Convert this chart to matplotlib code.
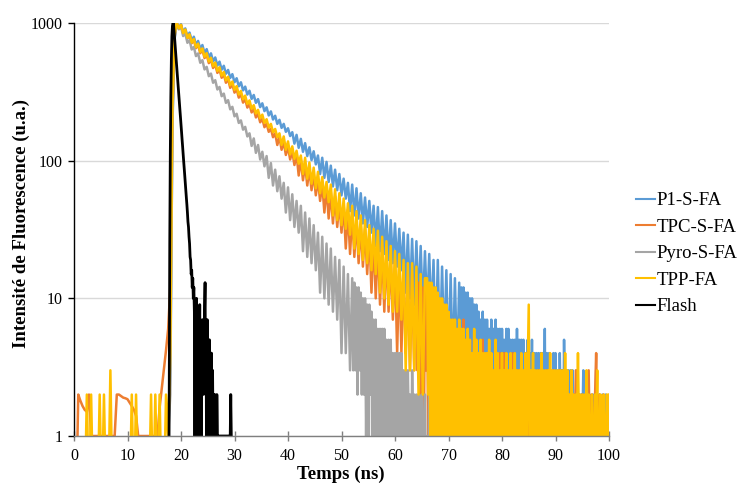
import numpy as np
import matplotlib
matplotlib.use("Agg")
import matplotlib.pyplot as plt
from matplotlib.lines import Line2D

plt.rcParams['font.family'] = ['Liberation Serif', 'DejaVu Serif']

# ---------------- data ----------------
series_names = ["P1-S-FA", "TPC-S-FA", "Pyro-S-FA", "TPP-FA", "Flash"]
series_colors = ["#5B9BD5", "#ED7D31", "#A5A5A5", "#FFC000", "#000000"]

head_step = 0.4   # ns between channels of the head part (starts at 0 ns)
tail_step = 0.2   # ns between channels of the low-count tail

# ---- P1-S-FA ----
p1_base = [0] * 44 + [1]
p1_decay = [3, 180, 760,
    1000, 918, 980, 856, 914, 798, 852, 745, 795, 694,
    741, 648, 692, 604, 646, 564, 602, 526, 562, 491,
    524, 458, 489, 428, 456, 399, 425, 371, 397, 347,
    371, 324, 345, 302, 322, 281, 300, 263, 280, 245,
    261, 229, 244, 213, 228, 199, 212, 185, 198, 173,
    185, 162, 172, 151, 161, 133, 154, 124, 144, 116,
    134, 108, 125, 101, 117, 94, 109, 80, 105, 75,
    98, 70, 92, 65, 86, 61, 80, 56, 74, 53,
    69, 43, 67, 40, 63, 38, 58, 35, 54, 33,
    51, 30, 47, 24, 46, 22, 43, 21, 40, 19,
    37, 18, 35, 17, 32, 16, 30, 11, 29, 10,
    27, 9, 26, 9, 24, 8, 22, 8, 21, 7,
    19, 4, 19, 4, 17, 4, 16, 3, 15, 3,
    14, 3]
p1_tail_start = 72.0
p1_tail_lead = [13, 1, 12, 2, 12, 1, 11, 2, 11, 1,
                10, 2, 10, 1, 9, 1, 9, 1, 8, 2]
p1_tail = ("71807" "17261" "71607" "16160"
           "61516" "06151" "50516" "15051" "51405" "04150" "41404" "14041"
           "60414" "03140" "41304" "13051" "30313" "03120" "31202" "13021"
           "20210" "21031" "02102" "10210" "1")

# ---- TPC-S-FA ----
tpc_base = [np.nan, np.nan, 2.0, 1.8, 1.65, 1.55, 1.5, 2, 1,
    1, 1, 1, 1, 1, 1, 1, 1, 1, 1, 1,
    2, 2, 1.95, 1.9, 1.88, 1.85, 1.75, 1.65, 1.55, 1.4,
    1, 1, 1, 1, 1, 1, 1, 1, 1, 1,
    1.6, 2.2, 3, 4.2, 6]
tpc_decay = [12, 230, 800,
    1000, 912, 967, 840, 890, 772, 819, 712, 755, 656,
    695, 603, 641, 556, 589, 511, 543, 471, 500, 434,
    460, 400, 424, 368, 391, 338, 359, 312, 331, 287,
    305, 264, 280, 243, 258, 224, 238, 206, 219, 190,
    202, 175, 186, 162, 171, 148, 158, 130, 149, 120,
    137, 110, 126, 102, 117, 93, 111, 78, 102, 72,
    94, 66, 87, 61, 80, 56, 73, 51, 68, 42,
    64, 38, 59, 35, 55, 33, 50, 30, 48, 23,
    44, 21, 41, 20, 37, 18, 34, 17, 32, 15,
    30, 11, 28, 10, 26, 9, 24, 8, 22, 8,
    20, 7, 19, 4, 18, 4, 16, 4, 15, 3,
    15, 3]
tpc_tail_start = 64.0
tpc_tail_lead = [14, 3, 13, 2, 13, 2, 12, 1, 12, 3,
                 11, 1, 11, 2, 10, 1, 10, 2, 9, 0]
tpc_tail = ("81709" "16280" "71607" "26051"
            "60517" "15061" "50415" "15041" "40513" "04140" "41304" "13041"
            "30413" "03130" "41303" "13031" "30314" "03120" "31203" "12031"
            "20312" "02130" "21203" "12021" "20120" "12013" "01210" "21021"
            "03102" "10241" "02101" "20101" "1")

# ---- Pyro-S-FA ----
pyro_base = [0] * 44 + [1]
pyro_decay = [2, 200, 780,
    1000, 899, 939, 804, 840, 718, 751, 642, 671, 575,
    601, 514, 537, 460, 480, 411, 429, 368, 384, 329,
    343, 294, 307, 263, 275, 236, 246, 210, 219, 188,
    196, 168, 176, 150, 158, 128, 145, 114, 130, 102,
    116, 91, 108, 75, 96, 66, 86, 60, 77, 53,
    69, 42, 64, 37, 57, 33, 51, 30, 47, 22,
    42, 20, 38, 18, 34, 16, 30, 11, 28, 10,
    25, 9, 23, 8, 20, 7, 19, 4, 17, 4,
    15, 3]
pyro_tail_start = 52.0
pyro_tail_lead = [14, 3, 13, 3, 12, 2, 12, 3, 11, 2,
                  10, 2, 10, 1, 9, 1, 9, 2, 8, 0]
pyro_tail = ("71706" "16061" "60515" "05140"
             "41404" "04130" "30312" "03120" "20210" "20120" "10201" "01001"
             "00000" "00000" "0")

# ---- TPP-FA ----
tpp_base = [0, 0, 0, 0, 0, 0,
    2, 0, 2, 0, 0, 0,
    2, 0, 2, 0, 0, 3,
    0, 0, 0, 0, 0, 0,
    0, 0, 0, 2, 0, 2,
    0, 0, 0, 0, 0, 0,
    2, 0, 2, 0, 2, 0,
    0, 2, 1]
tpp_decay = [4, 250, 830,
    1000, 913, 970, 844, 897, 780, 828, 721, 765, 666,
    708, 616, 654, 569, 604, 525, 559, 485, 516, 448,
    477, 414, 441, 383, 407, 353, 376, 327, 348, 302,
    321, 279, 297, 258, 274, 238, 253, 220, 234, 203,
    216, 188, 200, 174, 185, 161, 170, 148, 158, 130,
    150, 120, 138, 111, 127, 103, 118, 95, 109, 80,
    105, 74, 97, 68, 89, 63, 83, 58, 76, 54,
    70, 50, 67, 40, 62, 37, 58, 34, 53, 32,
    49, 29, 47, 23, 43, 21, 40, 19, 37, 18,
    34, 16, 32, 15, 31, 11, 28, 10, 26, 9,
    24, 8, 22, 8, 21, 7, 19, 3, 18, 3,
    18, 3, 17, 2, 15, 2, 14]
tpp_tail_start = 66.0
tpp_tail_lead = [14, 2, 13, 1, 13, 0, 12, 1, 12, 0,
                 11, 1, 10, 0, 10, 1, 9, 0, 9, 1,
                 8, 0, 7, 1, 7, 0, 7, 1, 6, 0,
                 7, 0, 6, 1, 6]
tpp_tail = ("15061"
            "50416" "05140" "51404" "04150" "41305" "14031" "40314" "03140"
            "31403" "13041" "30413" "90314" "03130" "31403" "13031" "40313"
            "03130" "30314" "13021" "31202" "14120" "21203" "12012" "10213"
            "01210" "21021" "2")

# ---- Flash ----
flash_start = 17.5   # ns
flash_step = 0.1     # ns
flash = [0, 0, 0, 2, 25, 110, 290, 540, 800, 950,
    1000, 985, 880, 780, 690, 610, 540, 480, 425, 378,
    335, 297, 263, 233, 207, 183, 162, 143, 127, 112,
    99, 88, 78, 69, 61, 54, 48, 42, 36, 33,
    28, 25, 20, 19, 15, 16, 12, 14, 10, 12,
    8, 1, 9, 6, 10, 5, 8, 0, 7, 4,
    9, 3, 6, 1, 5, 7, 2, 6, 3, 8,
    13, 2, 5, 0, 7, 3, 4, 1, 5, 2,
    4, 0, 4, 1, 3, 1, 2, 0, 2, 1,
    1, 0, 2, 1, 1] + [1] * 23 + [2, 1, 0] + [0] * 5

x_ticks = [0, 10, 20, 30, 40, 50, 60, 70, 80, 90, 100]
y_ticks = [1, 10, 100, 1000]
y_tick_labels = ["1", "10", "100", "1000"]

# ---------------- figure ----------------
fig = plt.figure(figsize=(7.4, 4.84), dpi=100)
ax = fig.add_axes([74 / 740, 48 / 484, (609 - 74) / 740, (436 - 23) / 484])


def build(head, tail_start, tail_lead, tail_digits):
    t_head = head_step * np.arange(len(head))
    tail = list(tail_lead) + [int(c) for c in tail_digits]
    t_tail = tail_start + tail_step * np.arange(len(tail))
    t = np.concatenate([t_head, t_tail])
    y = np.array(list(head) + tail, dtype=float)
    y = np.where(y > 0, y, 0.3)  # zero counts fall below the log axis
    return t, y


decays = [
    build(p1_base + p1_decay, p1_tail_start, p1_tail_lead, p1_tail),
    build(tpc_base + tpc_decay, tpc_tail_start, tpc_tail_lead, tpc_tail),
    build(pyro_base + pyro_decay, pyro_tail_start, pyro_tail_lead, pyro_tail),
    build(tpp_base + tpp_decay, tpp_tail_start, tpp_tail_lead, tpp_tail),
]

for (t, y), color in zip(decays, series_colors[:4]):
    ax.plot(t, y, color=color, lw=1.8)

tf = flash_start + flash_step * np.arange(len(flash))
yf = np.array(flash, dtype=float)
ax.plot(tf, np.where(yf > 0, yf, 0.3), color=series_colors[4], lw=2.0)

ax.set_yscale('log')
ax.set_xlim(0, 100)
ax.set_ylim(1, 1000)
ax.set_xticks(x_ticks)
ax.set_xticklabels([str(v) for v in x_ticks])
ax.set_yticks(y_ticks)
ax.set_yticklabels(y_tick_labels)
ax.yaxis.set_minor_locator(matplotlib.ticker.NullLocator())
ax.xaxis.set_minor_locator(matplotlib.ticker.NullLocator())

ax.yaxis.grid(True, color='#D9D9D9', lw=1.0)
ax.set_axisbelow(True)
for s in ['top', 'right']:
    ax.spines[s].set_visible(False)
ax.spines['left'].set_color('#000000')
ax.spines['left'].set_linewidth(1.0)
ax.spines['bottom'].set_color('#7F7F7F')
ax.spines['bottom'].set_linewidth(1.0)
ax.tick_params(axis='x', direction='inout', length=7, width=1.0, color='#7F7F7F',
               labelsize=11.5, pad=5)
ax.tick_params(axis='y', direction='out', length=4, width=1.0, color='#000000',
               labelsize=11.5, pad=4)

fig.text(21 / 740, 1 - 223 / 484, "Intensité de Fluorescence (u.a.)", rotation=90,
         ha='center', va='center', fontsize=13.5, fontweight='bold')
fig.text(341 / 740, 1 - 474 / 484, "Temps (ns)", ha='center', va='center',
         fontsize=13.5, fontweight='bold')

handles = [Line2D([0], [0], color=c, lw=1.5) for c in series_colors]
fig.legend(handles, series_names, loc='upper left',
           bbox_to_anchor=(636 / 740, 1 - 192 / 484), frameon=False,
           fontsize=13.5, handlelength=1.0, handletextpad=0.1,
           labelspacing=0.5, borderpad=0, borderaxespad=0)

fig.savefig("out.png", dpi=100)
